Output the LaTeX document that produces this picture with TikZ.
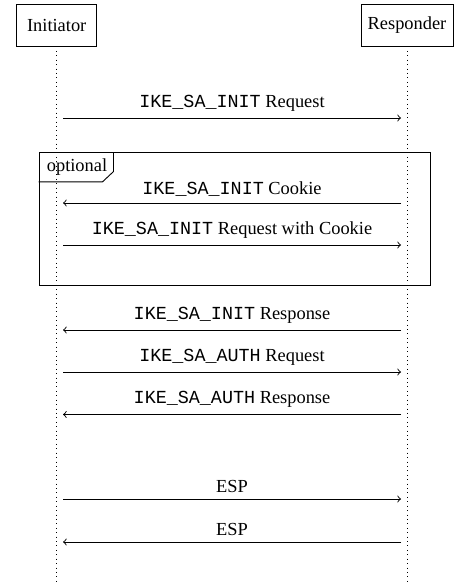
\documentclass[tikz,border=0pt]{standalone}
\usepackage{fontspec}
\setmainfont{Liberation Serif}
\setmonofont{Liberation Mono}
\usetikzlibrary{calc}
\begin{document}
\begin{tikzpicture}[x=0.5435pt,y=-0.5435pt,
  party/.style={draw,line width=0.5pt,minimum height=22.8pt,inner sep=2pt},
  lifeline/.style={dotted,line width=0.4pt},
  msg/.style={->,line width=0.5pt},
  msglabel/.style={above,font=\normalsize},
  block/.style={draw,line width=0.5pt}]
  \useasboundingbox (0,0) rectangle (459,585);

  % participants
  \node[party,minimum width=43.5pt] (init) at (56.7,25) {Initiator};
  \node[party,minimum width=50pt] (resp) at (407,25) {Responder};
  \coordinate (initEnd) at (56.7,585);
  \coordinate (respEnd) at (407,585);
  \draw[lifeline] (init.south) -- (initEnd);
  \draw[lifeline] (resp.south) -- (respEnd);

  % optional block
  \node[block,minimum width=212.9pt,minimum height=72.1pt,inner sep=0pt] (opt) at (234.85,219) {};
  \draw[line width=0.5pt] ($(opt.north west)+(75,0)$) -- ++(0,19.3) -- ++(-11,10.3) -- ($(opt.north west)+(0,29.6)$);
  \node[anchor=base west,inner sep=0pt] (optlabel) at (46.5,171) {optional};

  % message end points
  \coordinate (a1) at (63,118);  \coordinate (b1) at (401,118);
  \coordinate (a2) at (63,203);  \coordinate (b2) at (401,203);
  \coordinate (a3) at (63,245);  \coordinate (b3) at (401,245);
  \coordinate (a4) at (63,330);  \coordinate (b4) at (401,330);
  \coordinate (a5) at (63,372);  \coordinate (b5) at (401,372);
  \coordinate (a6) at (63,414.5);\coordinate (b6) at (401,414.5);
  \coordinate (a7) at (63,499);  \coordinate (b7) at (401,499);
  \coordinate (a8) at (63,542);  \coordinate (b8) at (401,542);

  % messages
  \draw[msg] (a1) -- node[msglabel] (l1) {\texttt{IKE\_SA\_INIT} Request} (b1);
  \draw[msg] (b2) -- node[msglabel] (l2) {\texttt{IKE\_SA\_INIT} Cookie} (a2);
  \draw[msg] (a3) -- node[msglabel] (l3) {\texttt{IKE\_SA\_INIT} Request with Cookie} (b3);
  \draw[msg] (b4) -- node[msglabel] (l4) {\texttt{IKE\_SA\_INIT} Response} (a4);
  \draw[msg] (a5) -- node[msglabel] (l5) {\texttt{IKE\_SA\_AUTH} Request} (b5);
  \draw[msg] (b6) -- node[msglabel] (l6) {\texttt{IKE\_SA\_AUTH} Response} (a6);
  \draw[msg] (a7) -- node[msglabel] (l7) {ESP} (b7);
  \draw[msg] (b8) -- node[msglabel] (l8) {ESP} (a8);
\end{tikzpicture}
\end{document}
